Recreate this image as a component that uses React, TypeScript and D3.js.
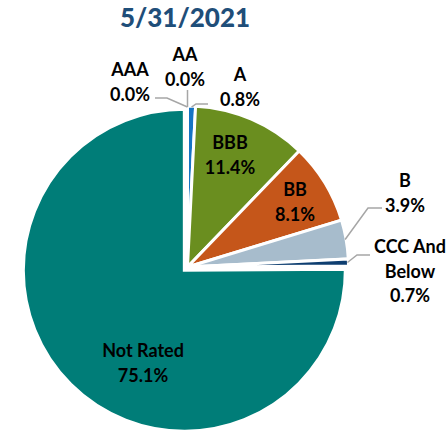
import React from "react";
import * as d3 from "d3";

const title = "5/31/2021";
const categories = ["AAA", "AA", "A", "BBB", "BB", "B", "CCC And Below", "Not Rated"];
const values = [0.0, 0.0, 0.8, 11.4, 8.1, 3.9, 0.7, 75.1];
const colors = ["#2E75B6", "#2E75B6", "#1574C4", "#6A8E1F", "#C5561A", "#A7BCCC", "#0E3E70", "#007D78"];

const W = 446, H = 433;
const cx = 187.5, cy = 267, R = 161;
const explodeIdx = 7, explodeDist = 4.5;

type Lab = { x: number; y: number; lines: string[]; leader?: [number, number][] };
const labelLayout: Lab[] = [
  { x: 130, y: 70, lines: ["AAA", "0.0%"], leader: [[155, 98], [167, 98]] },
  { x: 185, y: 55, lines: ["AA", "0.0%"], leader: [[187.5, 90]] },
  { x: 240, y: 75, lines: ["A", "0.8%"], leader: [[208, 104], [196, 104]] },
  { x: 230, y: 143, lines: ["BBB", "11.4%"] },
  { x: 295, y: 190, lines: ["BB", "8.1%"] },
  { x: 405, y: 181, lines: ["B", "3.9%"], leader: [[382, 208], [368, 208]] },
  { x: 410, y: 247, lines: ["CCC And", "Below", "0.7%"], leader: [[370, 255], [357, 255]] },
  { x: 143, y: 351, lines: ["Not Rated", "75.1%"] },
];

export default function App() {
  const pie = d3.pie<number>().sort(null).value((d) => d).startAngle(0).endAngle(2 * Math.PI);
  const arcs = pie(values);
  const arcGen = d3.arc<d3.PieArcDatum<number>>().innerRadius(0).outerRadius(R);
  const font = "Lato, 'Open Sans', sans-serif";
  return (
    <svg width={W} height={H} style={{ position: "absolute", left: 0, top: 0 }}>
      <text x={185} y={27} textAnchor="middle" fontFamily={font} fontWeight={900} fontSize={26} fill="#1F4E79">
        {title}
      </text>
      {arcs.map((a, i) => {
        const mid = (a.startAngle + a.endAngle) / 2;
        const off = i === explodeIdx ? explodeDist : 0;
        const dx = Math.sin(mid) * off, dy = -Math.cos(mid) * off;
        return (
          <path key={categories[i]} d={arcGen(a) || ""} transform={`translate(${cx + dx},${cy + dy})`}
            fill={colors[i]} stroke="#fff" strokeWidth={3} strokeLinejoin="miter" />
        );
      })}
      {arcs.map((a, i) => {
        const L = labelLayout[i];
        if (!L.leader) return null;
        const mid = (a.startAngle + a.endAngle) / 2;
        const ex = cx + Math.sin(mid) * (R - 1), ey = cy - Math.cos(mid) * (R - 1);
        const pts = [...L.leader, [ex, ey]] as [number, number][];
        return <path key={"l" + i} d={d3.line()(pts) || ""} fill="none" stroke="#A6A6A6" strokeWidth={1.5} />;
      })}
      {labelLayout.map((L, i) => (
        <text key={"t" + i} fontFamily={font} fontWeight={700} fontSize={18} fill="#000" textAnchor="middle">
          {L.lines.map((ln, j) => (
            <tspan key={j} x={L.x} y={L.y + j * 24.5} dy="0.35em">{ln}</tspan>
          ))}
        </text>
      ))}
    </svg>
  );
}
